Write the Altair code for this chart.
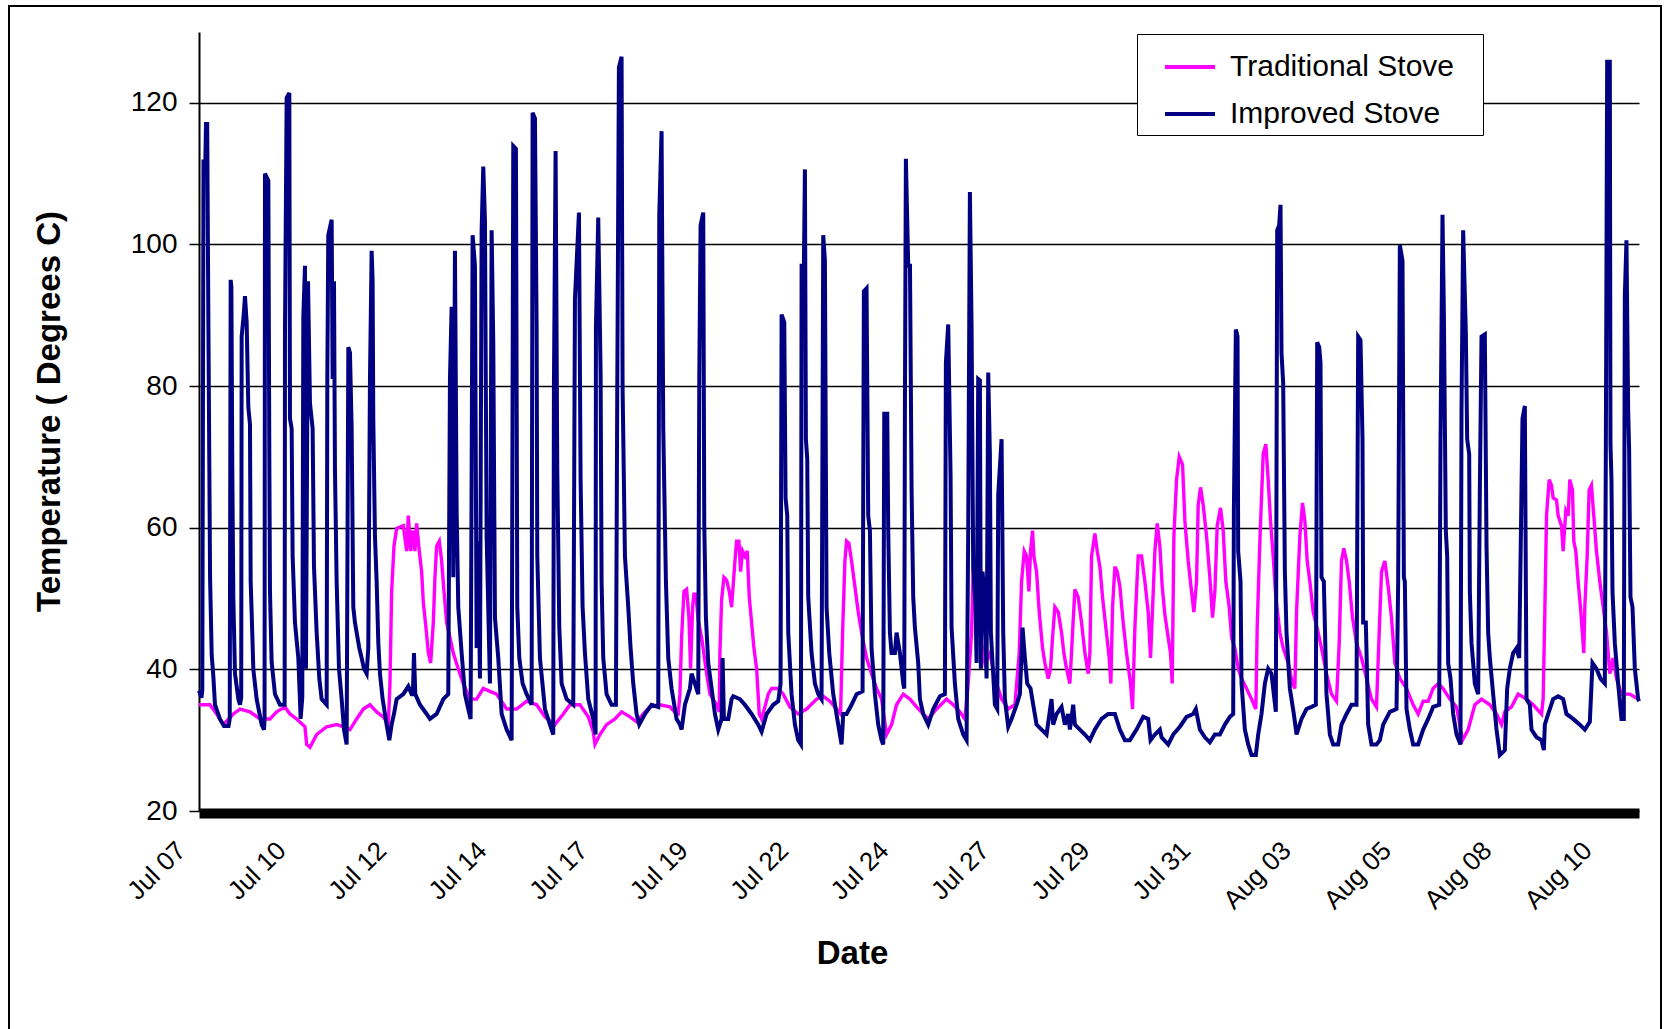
import altair as alt
import pandas as pd
import json

# ---------------- data ----------------
series_names = ["Traditional Stove", "Improved Stove"]
series_colors = ["#FF00FF", "#000080"]

tick_labels = ["Jul 07", "Jul 10", "Jul 12", "Jul 14", "Jul 17", "Jul 19", "Jul 22",
               "Jul 24", "Jul 27", "Jul 29", "Jul 31", "Aug 03", "Aug 05", "Aug 08", "Aug 10"]
tick_days = [0.64, 3.09, 5.54, 7.99, 10.45, 12.90, 15.35, 17.80, 20.25, 22.70,
             25.16, 27.61, 30.06, 32.51, 34.96]
y_ticks = [20, 40, 60, 80, 100, 120]

# Improved stove: (day since Jul 07 00:00, temperature C)
improved = [
    (0.64, 37), (0.70, 36), (0.72, 37), (0.75, 112), (0.79, 110), (0.81, 117), (0.84, 117),
    (0.87, 88), (0.91, 53), (0.95, 42), (0.99, 39), (1.03, 35), (1.15, 33), (1.25, 32), (1.36, 32),
    (1.39, 33), (1.413, 95), (1.43, 94), (1.453, 68), (1.478, 50), (1.518, 39.4), (1.6, 35.8), (1.64, 35),
    (1.67, 36), (1.681, 87), (1.73, 90), (1.762, 92.7), (1.803, 89), (1.844, 77), (1.884, 74.6),
    (1.901, 52.4), (1.925, 48), (1.966, 40), (2.047, 35.8), (2.169, 32.2), (2.226, 31.5),
    (2.24, 33), (2.25, 110), (2.332, 109), (2.356, 70), (2.372, 51), (2.413, 41), (2.494, 36.5),
    (2.616, 35), (2.73, 35),
    (2.738, 87.6), (2.779, 120.7), (2.844, 121.4), (2.86, 75.4), (2.901, 74), (2.925, 56),
    (2.982, 46.6), (3.064, 41.6), (3.12, 33),
    (3.16, 36), (3.186, 89.8), (3.226, 97), (3.25, 40.1), (3.3, 94.8), (3.348, 77.6), (3.413, 74),
    (3.446, 54.5), (3.511, 45.2), (3.576, 38.7), (3.633, 35.8), (3.755, 35),
    (3.771, 81), (3.795, 101.3), (3.877, 103.5), (3.901, 81), (3.934, 94.8), (3.958, 68.2),
    (3.999, 52.4), (4.056, 40.1), (4.121, 35.8), (4.178, 31.5), (4.243, 29.4),
    (4.284, 85.5), (4.324, 84.7), (4.365, 74), (4.405, 48.8), (4.446, 46.6), (4.487, 45.2),
    (4.552, 43), (4.609, 41.6), (4.666, 40.1), (4.731, 39.4), (4.771, 43),
    (4.812, 81), (4.853, 99.1), (4.877, 94.8), (4.893, 75.4), (4.934, 58.8), (4.975, 52.4),
    (5.016, 43.7), (5.056, 39.4), (5.121, 35.8), (5.219, 32.2), (5.284, 30),
    (5.341, 32.2), (5.398, 33.7), (5.463, 35.8), (5.626, 36.5), (5.748, 37.6), (5.829, 36.5),
    (5.86, 36.5), (5.886, 42.3), (5.918, 36.5), (6.032, 35), (6.195, 33.7),
    (6.276, 33), (6.439, 33.7), (6.601, 35.8), (6.723, 36.5), (6.764, 81), (6.805, 91.2),
    (6.845, 53), (6.886, 99.1), (6.927, 62.4), (6.967, 48.8), (7.049, 42.3), (7.13, 36.5),
    (7.211, 34.4), (7.268, 33), (7.317, 101.3), (7.374, 97), (7.415, 43), (7.455, 58.1),
    (7.496, 38.7), (7.537, 102), (7.577, 111), (7.618, 103.5), (7.659, 58.8), (7.74, 38),
    (7.781, 102), (7.821, 86.2), (7.862, 47.3), (7.943, 41.6), (8.025, 33.7), (8.147, 31.5),
    (8.269, 30), (8.309, 113.9), (8.374, 113.5), (8.407, 48.8), (8.456, 41.6), (8.537, 38),
    (8.635, 36.5), (8.757, 35), (8.781, 118.6), (8.838, 117.8), (8.879, 88.3), (8.895, 56),
    (8.96, 41.6), (9.082, 34.4), (9.204, 32.2), (9.285, 30.8), (9.301, 79.7), (9.342, 113.2),
    (9.383, 68.2), (9.432, 45.9), (9.489, 38), (9.611, 35.8), (9.773, 35), (9.814, 92.3),
    (9.912, 104.5), (9.952, 66.8), (10.001, 48.8), (10.058, 42.3), (10.139, 35.8), (10.261, 33),
    (10.318, 30.8), (10.326, 88.3), (10.383, 103.8), (10.44, 81.9), (10.464, 52.4), (10.505, 41.6),
    (10.586, 36.5), (10.708, 35), (10.814, 35), (10.847, 79.7), (10.887, 125), (10.952, 126.5),
    (10.977, 79.7), (11.034, 56), (11.115, 48.8), (11.172, 43), (11.237, 38), (11.318, 33.7),
    (11.383, 32.2), (11.522, 33.7), (11.684, 35), (11.847, 34.7), (11.872, 104.2), (11.928, 116),
    (11.969, 74), (12.034, 52.4), (12.091, 41.6), (12.172, 37.3), (12.294, 33), (12.376, 32.2),
    (12.417, 31.5), (12.498, 35), (12.62, 37.3), (12.661, 39.4), (12.742, 38), (12.823, 36.5),
    (12.848, 81), (12.88, 102.7), (12.945, 104.5), (12.97, 60.3), (13.01, 47.3), (13.067, 40.9),
    (13.149, 37.3), (13.23, 33.7), (13.311, 31.5), (13.393, 33), (13.417, 41.6), (13.45, 33),
    (13.555, 33), (13.637, 35.8), (13.677, 36.2), (13.84, 35.8), (13.962, 35), (14.125, 33.7),
    (14.287, 32.2), (14.369, 31.2), (14.491, 33.7), (14.653, 35), (14.775, 35.5), (14.832, 38),
    (14.857, 90.1), (14.922, 89), (14.954, 64.2), (14.995, 61.7), (15.019, 45.2), (15.1, 36.5),
    (15.182, 32.2), (15.263, 30), (15.328, 29.4), (15.345, 97), (15.401, 97), (15.426, 110.6),
    (15.45, 72.5), (15.483, 69.7), (15.507, 50.2), (15.588, 42.3), (15.67, 38), (15.751, 36.5),
    (15.832, 35.8), (15.873, 101.3), (15.914, 97.7), (15.954, 48.8), (16.02, 42.3), (16.117, 36.5),
    (16.239, 32.2), (16.32, 29.4), (16.361, 33.7), (16.442, 33.7), (16.564, 35), (16.686, 36.5),
    (16.833, 36.9), (16.865, 93.4), (16.93, 93.8), (16.971, 61.7), (17.012, 59.6), (17.052, 43),
    (17.134, 36.5), (17.215, 32.2), (17.296, 30), (17.337, 29.4), (17.362, 76.1), (17.435, 76.1),
    (17.459, 59.6), (17.5, 45.2), (17.54, 42.3), (17.622, 42.3), (17.662, 45.2), (17.744, 42.3),
    (17.825, 38), (17.85, 37.3), (17.866, 76.1), (17.89, 112.1), (17.947, 97), (17.99, 97),
    (18.029, 65.3), (18.069, 50.2), (18.11, 45.9), (18.191, 40.9), (18.232, 35.8), (18.313, 33.7),
    (18.435, 32.2), (18.557, 34.4), (18.72, 36.2), (18.842, 36.5), (18.866, 83.3), (18.923, 88.7),
    (18.98, 67.5), (19.005, 45.9), (19.086, 38), (19.167, 33), (19.289, 30.8), (19.371, 30),
    (19.411, 59.6), (19.452, 107.4), (19.493, 88.3), (19.533, 54.5), (19.59, 48.8), (19.615, 40.9),
    (19.655, 81), (19.696, 80.8), (19.72, 40.1), (19.761, 53.8), (19.818, 49.5), (19.859, 38.7),
    (19.899, 81.9), (19.94, 70.4), (19.964, 45.2), (20.005, 40.9), (20.062, 35), (20.119, 34.4),
    (20.143, 64.6), (20.225, 72.5), (20.265, 45.2), (20.306, 35.8), (20.387, 31.9), (20.469, 33),
    (20.591, 35), (20.672, 36.5), (20.737, 45.9), (20.794, 41.6), (20.851, 38), (20.932, 37.3),
    (20.997, 35), (21.079, 32.2), (21.201, 31.5), (21.323, 30.8), (21.444, 35.8), (21.485, 32.2),
    (21.567, 33.7), (21.689, 34.7), (21.77, 32.2), (21.851, 33.7), (21.892, 31.5), (21.973, 35),
    (22.014, 32.2), (22.136, 31.5), (22.258, 30.8), (22.38, 30), (22.502, 31.5), (22.664, 33),
    (22.827, 33.7), (22.99, 33.7), (23.112, 31.5), (23.234, 30), (23.356, 30), (23.518, 31.5),
    (23.681, 33.3), (23.803, 33), (23.86, 30), (23.966, 30.8), (24.088, 31.5),
    (24.129, 30.4), (24.291, 29.4), (24.413, 30.8), (24.576, 31.9), (24.739, 33.3), (24.901, 33.7),
    (24.966, 34.4), (25.064, 31.5), (25.186, 30.4), (25.308, 29.7), (25.43, 30.8), (25.552, 30.8),
    (25.674, 32.2), (25.796, 33.3), (25.877, 33.7), (25.894, 62.4), (25.942, 88), (25.983, 87),
    (25.999, 56.7), (26.056, 52.4), (26.081, 38), (26.162, 31.5), (26.243, 29.4), (26.325, 27.9),
    (26.43, 27.9), (26.487, 30.8), (26.568, 33.7), (26.65, 38), (26.731, 40.1), (26.812, 39.4),
    (26.869, 36.5), (26.918, 34), (26.951, 102), (26.999, 102.7), (27.032, 105.6), (27.056, 84.7),
    (27.097, 80.4), (27.138, 53.8), (27.178, 45.2), (27.26, 37.3), (27.357, 33.7), (27.423, 30.8),
    (27.544, 33), (27.666, 34.4), (27.788, 34.7), (27.894, 35), (27.927, 86.2), (27.976, 85.5),
    (28.008, 83.3), (28.032, 53), (28.089, 52.4), (28.154, 36.5), (28.236, 30.8), (28.317, 29.4),
    (28.439, 29.4), (28.521, 32.2), (28.643, 33.7), (28.765, 35), (28.886, 35), (28.927, 87),
    (28.984, 86.5), (29.033, 72.5), (29.049, 46.6), (29.114, 46.6), (29.171, 32.2), (29.252, 29.4),
    (29.374, 29.4), (29.456, 30), (29.537, 32.2), (29.7, 34),
    (29.863, 34.4), (29.903, 52.4), (29.944, 99.9), (30.009, 97.7), (30.042, 53), (30.066, 52.4),
    (30.107, 34.4), (30.188, 31.5), (30.269, 29.4), (30.391, 29.4), (30.513, 31.5), (30.635, 33),
    (30.757, 34.7), (30.904, 35), (30.936, 71.8), (30.985, 104.2), (31.018, 90.5), (31.066, 59.6),
    (31.099, 56), (31.123, 40.9), (31.18, 38.7), (31.245, 33.7), (31.327, 30.8), (31.424, 29.4),
    (31.449, 76.8), (31.489, 102), (31.554, 87.6), (31.587, 72.5), (31.636, 70.4), (31.652, 51),
    (31.693, 43.7), (31.774, 38), (31.855, 36.5), (31.896, 65.3), (31.937, 87), (32.018, 87.3),
    (32.059, 57.4), (32.099, 45.2), (32.14, 41.6), (32.221, 36.5), (32.303, 31.5), (32.384, 27.9),
    (32.506, 28.6), (32.563, 37.3), (32.628, 40.1), (32.709, 42.3), (32.791, 43), (32.856, 41.6),
    (32.937, 75.4), (32.994, 77.2), (33.035, 35.8), (33.116, 35), (33.157, 31.5), (33.279, 30.4),
    (33.401, 30), (33.458, 28.6), (33.482, 32.2), (33.563, 33.7), (33.685, 35.8), (33.807, 36.2),
    (33.929, 35.8), (34.01, 33.7), (34.173, 33), (34.336, 32.2), (34.458, 31.5), (34.58, 32.6),
    (34.645, 40.9), (34.742, 40.1), (34.84, 38.7), (34.946, 38), (34.97, 69.7), (35.003, 125.8),
    (35.068, 125.8), (35.084, 71.8), (35.108, 66.8), (35.133, 51), (35.19, 43.7), (35.271, 38),
    (35.352, 33), (35.409, 33), (35.434, 92.7), (35.474, 100.6), (35.515, 76.8), (35.539, 71),
    (35.572, 50.2), (35.621, 48.8), (35.678, 40.1), (35.718, 38), (35.759, 35.8), (35.78, 35.5),
]

# Traditional stove: (day since Jul 07 00:00, temperature C)
traditional = [
    (0.64, 35), (0.908, 35), (1.071, 33.7), (1.234, 32.2), (1.478, 33.7), (1.64, 34.4), (1.884, 34),
    (2.128, 33), (2.372, 33), (2.535, 34), (2.738, 34.7), (2.86, 33.7), (3.023, 33), (3.226, 31.9),
    (3.267, 29.4), (3.348, 29), (3.511, 30.8), (3.755, 31.9), (3.999, 32.2), (4.162, 31.9),
    (4.324, 31.5), (4.487, 33), (4.65, 34.4), (4.812, 35), (4.975, 34), (5.138, 33.3), (5.26, 32.2),
    (5.3, 38), (5.341, 51), (5.398, 57.4), (5.463, 59.9), (5.626, 60.3), (5.707, 56.7), (5.748, 61.7),
    (5.804, 56.7), (5.853, 59.6), (5.91, 56.7), (5.951, 60.6), (6.016, 56.7), (6.073, 53.8),
    (6.113, 49.5), (6.179, 45.9), (6.236, 42.3), (6.293, 40.9), (6.358, 46.6), (6.398, 53),
    (6.439, 57.4), (6.504, 58.1), (6.561, 55.3), (6.618, 51), (6.683, 46.6), (6.764, 44.5),
    (6.845, 42.3), (6.967, 40.1), (7.089, 38), (7.252, 35.8), (7.415, 35.8), (7.577, 37.3),
    (7.74, 36.9), (7.903, 36.5), (8.147, 34.4), (8.391, 34.4), (8.635, 35.5), (8.879, 35),
    (9.082, 33.3), (9.326, 32.2), (9.529, 33.7), (9.692, 35), (9.936, 35), (10.139, 33.3),
    (10.261, 31.2), (10.302, 29.4), (10.424, 30.8), (10.586, 32.2), (10.79, 33), (10.952, 34),
    (11.156, 33.3), (11.318, 32.6), (11.481, 33.7), (11.644, 34.7), (11.888, 35), (12.132, 34.7),
    (12.294, 33.7), (12.335, 33.7), (12.376, 36.5), (12.417, 44.5), (12.474, 51), (12.539, 51.3),
    (12.596, 47.3), (12.636, 40.1), (12.685, 48.8), (12.718, 50.6), (12.766, 50.6), (12.82, 47),
    (12.905, 44.5), (13.027, 39.4), (13.108, 36.5), (13.271, 35), (13.336, 34), (13.352, 42.3),
    (13.393, 49.8), (13.45, 53), (13.515, 52.6), (13.58, 51), (13.637, 48.8), (13.677, 52),
    (13.718, 55.3), (13.759, 58.1), (13.815, 58.1), (13.856, 53.8), (13.905, 56.7), (13.962, 56),
    (14.019, 56.7), (14.068, 50.2), (14.125, 46.6), (14.182, 43), (14.247, 40.1), (14.312, 33.7),
    (14.369, 33), (14.45, 34.7), (14.531, 36.5), (14.613, 37.3), (14.775, 37.3), (14.897, 36.5),
    (15.06, 34.7), (15.263, 33.7), (15.467, 34.4), (15.711, 35.8), (15.873, 36.2), (16.036, 35.5),
    (16.199, 34.4), (16.296, 33.7), (16.345, 45.2), (16.402, 55.3), (16.443, 58.1), (16.5, 57.8),
    (16.564, 55.3), (16.646, 51.7), (16.727, 48.1), (16.808, 45.2), (16.93, 41.6), (17.052, 39.4),
    (17.174, 37.3), (17.296, 35.8), (17.418, 30.8), (17.54, 32.2), (17.662, 35), (17.825, 36.5),
    (17.988, 35.8), (18.15, 34.7), (18.313, 33.7), (18.435, 33), (18.639, 34.4), (18.883, 35.8),
    (19.045, 35), (19.208, 34), (19.33, 33), (19.411, 38), (19.493, 45.2), (19.533, 54.5),
    (19.696, 45.2), (19.818, 40.9), (19.94, 42.3), (20.062, 38.7), (20.225, 35.8), (20.387, 34.4),
    (20.55, 35), (20.656, 42.3), (20.713, 52.4), (20.778, 56.7), (20.835, 56), (20.891, 51),
    (20.932, 56.7), (20.981, 59.6), (21.013, 56), (21.079, 53.8), (21.144, 48.1), (21.225, 43),
    (21.282, 40.9), (21.363, 38.7), (21.42, 40.1), (21.469, 44.5), (21.526, 48.8), (21.607, 48.1),
    (21.689, 45.2), (21.745, 42.3), (21.81, 40.1), (21.892, 38), (21.957, 45.2), (22.014, 51.3),
    (22.095, 50.2), (22.176, 46.6), (22.258, 42.3), (22.339, 39.4), (22.38, 42.3), (22.421, 56),
    (22.502, 59.2), (22.559, 56.7), (22.624, 54.5), (22.689, 50.2), (22.77, 45.9), (22.852, 41.6),
    (22.892, 38), (22.933, 48.8), (22.99, 54.5), (23.047, 53.8), (23.112, 51.7), (23.193, 46.6),
    (23.274, 42.3), (23.372, 38), (23.421, 34.4), (23.478, 45.9), (23.559, 56), (23.641, 56),
    (23.722, 52.4), (23.803, 48.1), (23.86, 41.6), (23.966, 56.7), (24.023, 60.6), (24.088, 57.4),
    (24.145, 51.7), (24.21, 47.7), (24.291, 44.5), (24.348, 42.3), (24.389, 38), (24.43, 58.8),
    (24.495, 66.8), (24.56, 70), (24.641, 68.9), (24.698, 61), (24.779, 55.3), (24.861, 51),
    (24.918, 48.1), (24.983, 52.4), (25.023, 63.2), (25.08, 65.7), (25.145, 63.2), (25.227, 58.8),
    (25.308, 53), (25.373, 47.3), (25.43, 51), (25.487, 60.3), (25.568, 62.8), (25.633, 59.6),
    (25.698, 52.4), (25.78, 48.8), (25.837, 44.5), (25.918, 43), (25.999, 40.1), (26.081, 38.7),
    (26.203, 37.3), (26.325, 35.8), (26.43, 34.4), (26.463, 45.9), (26.528, 58.1), (26.609, 70.4),
    (26.674, 71.8), (26.731, 66.8), (26.788, 61), (26.853, 56), (26.918, 50.2), (27.016, 45.2),
    (27.097, 43), (27.219, 40.9), (27.325, 38), (27.382, 37.3), (27.423, 48.1), (27.504, 58.8),
    (27.569, 63.5), (27.626, 61), (27.683, 55.3), (27.748, 52.4), (27.829, 48.1), (27.951, 45.2),
    (28.032, 43), (28.154, 39.4), (28.276, 36.5), (28.398, 35.5), (28.464, 43.7), (28.52, 55.3),
    (28.577, 57.1), (28.643, 55.3), (28.708, 52.4), (28.789, 47.3), (28.886, 43.7), (29.008, 41.6),
    (29.13, 38.7), (29.252, 35.8), (29.374, 34.7), (29.44, 45.2), (29.497, 53.8), (29.578, 55.3),
    (29.659, 51.7), (29.74, 47.3), (29.822, 40.9), (29.944, 38.7), (30.107, 37.3), (30.269, 35),
    (30.391, 33.7), (30.513, 35.5), (30.635, 35.5), (30.757, 37.3), (30.879, 38), (31.001, 37.3),
    (31.164, 35.8), (31.327, 34.7), (31.473, 30), (31.611, 31.5), (31.774, 35), (31.937, 35.8),
    (32.14, 35), (32.303, 33.7), (32.425, 32.2), (32.506, 34), (32.669, 34.7), (32.831, 36.5),
    (33.035, 35.8), (33.197, 35), (33.401, 33.7), (33.441, 35.8), (33.482, 48.1), (33.523, 61.7),
    (33.588, 66.8), (33.644, 66), (33.685, 64.2), (33.767, 63.9), (33.807, 61.7), (33.888, 60.3),
    (33.929, 56.7), (33.994, 62.4), (34.051, 61.7), (34.092, 66.8), (34.157, 65.3), (34.189, 58.1),
    (34.238, 56.7), (34.295, 52.4), (34.352, 48.8), (34.433, 42.3), (34.458, 48.8), (34.515, 56),
    (34.563, 65.3), (34.62, 66), (34.677, 61.7), (34.742, 56.7), (34.824, 52.4), (34.905, 48.8),
    (34.987, 45.2), (35.068, 39.4), (35.149, 41.6), (35.231, 38.7), (35.352, 36.5), (35.556, 36.5),
    (35.759, 35.8),
]

# ---------------- tables ----------------
df_trad = pd.DataFrame(traditional, columns=["day", "temp"])
df_trad["series"] = series_names[0]
df_imp = pd.DataFrame(improved, columns=["day", "temp"])
df_imp["series"] = series_names[1]

FONT = "Liberation Sans"
label_expr = json.dumps(tick_labels) + "[round((datum.value - 0.64) / 2.4515)]"

x_enc = alt.X(
    "day:Q",
    scale=alt.Scale(domain=[0.64, 35.78], nice=False, zero=False),
    axis=alt.Axis(
        values=tick_days, labelExpr=label_expr, title="Date",
        grid=False, ticks=False, tickSize=0,
        domainColor="black", domainWidth=10, offset=2,
        labelAngle=-45, labelAlign="right", labelBaseline="middle",
        labelFont=FONT, labelFontSize=26, labelColor="black",
        labelPadding=33, labelOffset=-18, labelFlush=False, labelOverlap=False,
        titleFont=FONT, titleFontSize=33, titleFontWeight="bold", titleColor="black",
        titleX=653, titleY=150, titleAlign="center", titleBaseline="alphabetic",
    ),
)
y_enc = alt.Y(
    "temp:Q",
    scale=alt.Scale(domain=[20, 130], nice=False, zero=False),
    axis=alt.Axis(
        values=y_ticks, title="Temperature ( Degrees C)",
        grid=True, gridColor="black", gridWidth=1.3, gridOpacity=1,
        domainColor="black", domainWidth=2,
        ticks=True, tickSize=10, tickColor="black", tickWidth=1.5,
        labelFont=FONT, labelFontSize=28, labelColor="black", labelPadding=12,
        titleFont=FONT, titleFontSize=33, titleFontWeight="bold", titleColor="black",
        titleX=-150, titleY=379, titleAngle=-90, titleAlign="center", titleBaseline="middle",
    ),
)
color_enc = alt.Color(
    "series:N",
    scale=alt.Scale(domain=series_names, range=series_colors),
    legend=alt.Legend(
        title=None, orient="none", legendX=938, legendY=2, direction="vertical",
        fillColor="white", strokeColor="black", padding=6,
        symbolType="stroke", symbolSize=2500, symbolStrokeWidth=3.8, symbolOffset=20,
        labelFont=FONT, labelFontSize=30, labelColor="black", labelOffset=13,
        labelLimit=0, labelExpr="datum.label + '\u2800'",
        rowPadding=5,
    ),
)

border = alt.Chart(pd.DataFrame({"k": [0]})).mark_rect(
    fillOpacity=0, stroke="black", strokeWidth=2
).encode(
    x=alt.value(-190), x2=alt.value(1462), y=alt.value(-26), y2=alt.value(1010)
)

trad_line = alt.Chart(df_trad).mark_line(strokeWidth=3.4).encode(
    x=x_enc, y=y_enc, color=color_enc
)
imp_line = alt.Chart(df_imp).mark_line(strokeWidth=4).encode(
    x=x_enc, y=y_enc, color=color_enc
)

chart = alt.layer(border, trad_line, imp_line).properties(
    width=1440, height=779,
    autosize=alt.AutoSizeParams(type="none"),
    padding={"left": 199, "top": 32, "right": 30, "bottom": 218},
    background="white",
).configure_view(strokeWidth=0)

chart.save("out.html", embed_options={"renderer": "svg", "actions": False})
